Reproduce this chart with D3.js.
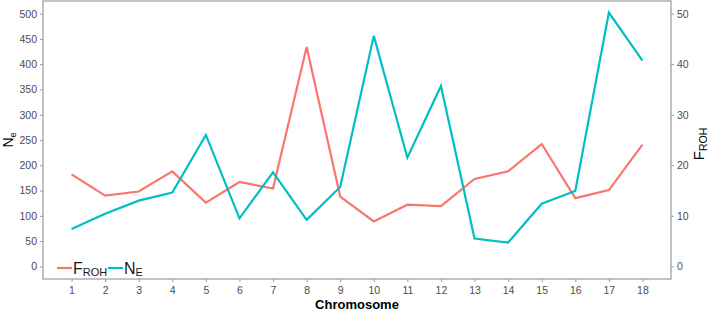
<!DOCTYPE html>
<html>
<head>
<meta charset="utf-8">
<script src="https://cdn.jsdelivr.net/npm/d3@7"></script>
<style>
  body { margin: 0; background: #fff; }
  svg { font-family: Arial, "Liberation Sans", sans-serif; }
  .axis text { fill: #4d4d4d; font-size: 10.5px; }
  .axis line, .axis path { stroke: #9a9a9a; }
</style>
</head>
<body>
<svg id="chart" width="709" height="315"></svg>
<script>
const chromosomes = d3.range(1, 19)
// F_ROH in percent (right axis), N_e (left axis)
const froh = [18.2, 14.0, 14.8, 18.8, 12.6, 16.7, 15.4, 43.4, 13.8, 8.9, 12.2, 11.9, 17.3, 18.8, 24.2, 13.5, 15.1, 24.1]
const ne = [74, 104, 130, 146, 260, 95, 186, 92, 157, 456, 215, 357, 55, 47, 124, 149, 502, 407]
const leftTicks = d3.range(0, 501, 50)
const rightTicks = d3.range(0, 51, 10)

const svg = d3.select('#chart')
const margin = { top: 1, left: 43, bottom: 36, right: 38 }
const width = +svg.attr('width') - margin.left - margin.right
const height = +svg.attr('height') - margin.top - margin.bottom

const xScale = d3.scaleLinear().domain([1 - 0.85, 18 + 0.85]).range([0, width])
const yLeft = d3.scaleLinear().domain([-25, 525]).range([height, 0])
const yRight = d3.scaleLinear().domain([-2.5, 52.5]).range([height, 0])

const g = svg.append('g').attr('transform', `translate(${margin.left},${margin.top})`)

g.append('rect').attr('width', width).attr('height', height)
  .attr('fill', 'none').attr('stroke', '#9a9a9a').attr('stroke-width', 1.2)

g.append('g').classed('axis', true).attr('transform', `translate(0,${height})`)
  .call(d3.axisBottom(xScale).tickValues(chromosomes).tickSize(3).tickPadding(5).tickFormat(d3.format('d')))
g.append('g').classed('axis', true)
  .call(d3.axisLeft(yLeft).tickValues(leftTicks).tickSize(3).tickPadding(3))
g.append('g').classed('axis', true).attr('transform', `translate(${width},0)`)
  .call(d3.axisRight(yRight).tickValues(rightTicks).tickSize(3).tickPadding(3))
g.selectAll('.axis path.domain').remove()

const line = d3.line().x((d, i) => xScale(chromosomes[i]))
g.append('path').datum(froh).attr('fill', 'none').attr('stroke', '#F8766D').attr('stroke-width', 2.2)
  .attr('d', line.y(d => yRight(d)))
g.append('path').datum(ne).attr('fill', 'none').attr('stroke', '#00BFC4').attr('stroke-width', 2.2)
  .attr('d', line.y(d => yLeft(d)))

// axis titles
svg.append('text').attr('x', margin.left + width / 2).attr('y', 309).attr('text-anchor', 'middle')
  .attr('font-weight', 'bold').attr('font-size', 13).text('Chromosome')

const tl = svg.append('text').attr('transform', `translate(13,${margin.top + height / 2}) rotate(-90)`)
  .attr('text-anchor', 'middle').attr('font-size', 14)
tl.append('tspan').text('N')
tl.append('tspan').attr('font-size', 9).attr('dy', 3).text('e')

const tr = svg.append('text').attr('transform', `translate(704,${margin.top + height / 2 + 4}) rotate(-90)`)
  .attr('text-anchor', 'middle').attr('font-size', 15)
tr.append('tspan').text('F')
tr.append('tspan').attr('font-size', 10.5).attr('dy', 2.5).text('ROH')

// legend
const legend = [
  { key: 'F', sub: 'ROH', color: '#F8766D', x: 57 },
  { key: 'N', sub: 'E', color: '#00BFC4', x: 108 }
]
const lg = svg.append('g').attr('transform', 'translate(0,268)')
legend.forEach(d => {
  lg.append('line').attr('x1', d.x).attr('x2', d.x + 15).attr('stroke', d.color).attr('stroke-width', 2.2)
  const t = lg.append('text').attr('x', d.x + 16).attr('y', 6).attr('font-size', 16).attr('fill', '#1a1a1a')
  t.append('tspan').text(d.key)
  t.append('tspan').attr('font-size', 11).attr('dy', 1.5).text(d.sub)
})
</script>
</body>
</html>
